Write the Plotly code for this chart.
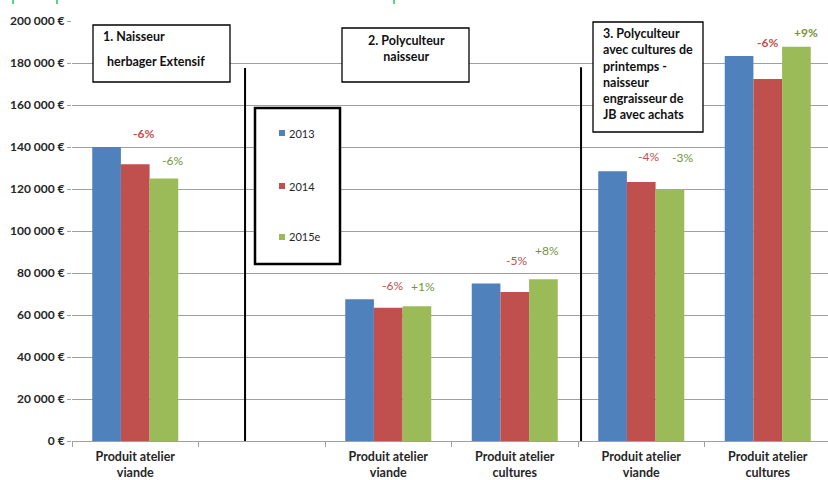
import plotly.graph_objects as go

# ---- data -------------------------------------------------------------
categories = [
    "Produit atelier viande",
    "",
    "Produit atelier viande",
    "Produit atelier cultures",
    "Produit atelier viande",
    "Produit atelier cultures",
]
years = ["2013", "2014", "2015e"]
values_2013 = [140000, None, 67500, 75000, 128500, 183300]
values_2014 = [131800, None, 63500, 71000, 123300, 172400]
values_2015e = [125000, None, 64200, 77000, 120000, 187700]
change_2014 = ["-6%", None, "-6%", "-5%", "-4%", "-6%"]
change_2015e = ["-6%", None, "+1%", "+8%", "-3%", "+9%"]
y_ticks = [0, 20000, 40000, 60000, 80000, 100000, 120000, 140000, 160000, 180000, 200000]

# ---- styling ----------------------------------------------------------
W, H = 828, 480
ML, MR, MT, MB = 72, 0, 21, 39
PW, PH = W - ML - MR, H - MT - MB
COLORS = ["#4f81bd", "#c0504d", "#9bbb59"]
LABEL_RED = "#c0504d"
LABEL_GREEN = "#76933c"
GRID = "#a0a0a0"
FONT = "Lato"


def px(x):
    """pixel column -> paper x"""
    return (x - ML) / PW


def py(y):
    """pixel row -> paper y"""
    return (H - MB - y) / PH


x_idx = list(range(len(categories)))
series = [values_2013, values_2014, values_2015e]

fig = go.Figure()
for name, vals, col in zip(years, series, COLORS):
    fig.add_trace(go.Bar(
        x=x_idx, y=vals, name=name,
        marker=dict(color=col, line=dict(width=0)),
        showlegend=False,
    ))

tick_text = [c.replace("atelier ", "atelier<br>") for c in categories]
y_tick_text = [f"{v:,}".replace(",", "\u00a0") + "\u00a0€" for v in y_ticks]

fig.update_layout(
    width=W, height=H, autosize=False,
    margin=dict(l=ML, r=MR, t=MT, b=MB, pad=0, autoexpand=False),
    paper_bgcolor="white", plot_bgcolor="white",
    barmode="group", bargap=0.32, bargroupgap=0,
    showlegend=False,
    font=dict(family=FONT, color="#262626"),
)

fig.update_xaxes(
    range=[-0.5, -0.5 + PW / 126.5],
    automargin=False,
    tickmode="array", tickvals=x_idx, ticktext=tick_text,
    ticks="", showgrid=False, zeroline=False,
    showline=True, linecolor=GRID, linewidth=1,
    tickfont=dict(family=FONT, size=12.5, color="#262626", weight="bold"),
    ticklabelstandoff=4,
    minor=dict(tickvals=[i - 0.5 for i in x_idx], ticks="outside",
               ticklen=5, tickcolor=GRID, tickwidth=1, showgrid=False),
)
fig.update_yaxes(
    range=[0, 200000],
    automargin=False,
    tickmode="array", tickvals=y_ticks, ticktext=y_tick_text,
    showgrid=True, gridcolor=GRID, gridwidth=1,
    zeroline=False, showline=False,
    ticks="outside", ticklen=4, tickcolor=GRID,
    tickfont=dict(family=FONT, size=12, color="#262626", weight="bold"),
)

# ---- change labels above the 2014 / 2015e bars --------------------------
bar_w = (1 - 0.32) / 3
label_offsets_2014 = [(8, 31), None, (4, 22), (2, 31), (7, 26), (0, 36)]
label_offsets_2015 = [(9, 18), None, (6, 20), (4, 29), (13, 32), (10, 14)]
bold_2014 = [True, False, False, False, False, True]
bold_2015 = [False, False, False, False, False, True]

for i in x_idx:
    if change_2014[i] is not None:
        dx, dy = label_offsets_2014[i]
        fig.add_annotation(
            x=i, y=values_2014[i], xref="x", yref="y",
            text=change_2014[i], showarrow=False,
            xanchor="center", yanchor="middle", xshift=dx, yshift=dy,
            font=dict(family=FONT, size=12, color=LABEL_RED,
                      weight="bold" if bold_2014[i] else "normal"),
        )
    if change_2015e[i] is not None:
        dx, dy = label_offsets_2015[i]
        fig.add_annotation(
            x=i + bar_w, y=values_2015e[i], xref="x", yref="y",
            text=change_2015e[i], showarrow=False,
            xanchor="center", yanchor="middle", xshift=dx, yshift=dy,
            font=dict(family=FONT, size=12, color=LABEL_GREEN,
                      weight="bold" if bold_2015[i] else "normal"),
        )

# ---- vertical separators between farm types ----------------------------
for xs, ytop in [(0.868, 177600), (3.524, 178000)]:
    fig.add_shape(type="line", xref="x", yref="y", x0=xs, x1=xs,
                  y0=-1000, y1=ytop, line=dict(color="black", width=2))

# ---- farm type title boxes ---------------------------------------------
boxes = [(93, 25, 230, 82), (342, 28, 469, 82), (593, 22, 703, 132)]
for x0, y0, x1, y1 in boxes:
    fig.add_shape(type="rect", xref="paper", yref="paper",
                  x0=px(x0), x1=px(x1), y0=py(y1), y1=py(y0),
                  line=dict(color="black", width=1.3), fillcolor="white",
                  layer="above")

title_font = dict(family=FONT, size=12.5, color="#111111", weight="bold")
fig.add_annotation(x=px(101), y=py(37), xref="paper", yref="paper",
                   text="1. Naisseur", showarrow=False,
                   xanchor="left", yanchor="middle", font=title_font)
fig.add_annotation(x=px(105), y=py(61), xref="paper", yref="paper",
                   text="herbager Extensif", showarrow=False,
                   xanchor="left", yanchor="middle", font=title_font)
fig.add_annotation(x=px(406), y=py(48), xref="paper", yref="paper",
                   text="2. Polyculteur<br>naisseur", showarrow=False,
                   xanchor="center", yanchor="middle", align="center",
                   font=title_font)
fig.add_annotation(x=px(601), y=py(74), xref="paper", yref="paper",
                   text="3. Polyculteur<br>avec cultures de<br>printemps -<br>"
                        "naisseur<br>engraisseur de<br>JB avec achats",
                   showarrow=False, xanchor="left", yanchor="middle",
                   align="left", font=title_font)

# ---- legend box ----------------------------------------------------------
fig.add_shape(type="rect", xref="paper", yref="paper",
              x0=px(255), x1=px(340), y0=py(264), y1=py(108),
              line=dict(color="black", width=2.5), fillcolor="white",
              layer="above")
for name, col, yc in zip(years, COLORS, [133, 186, 237]):
    fig.add_shape(type="rect", xref="paper", yref="paper",
                  x0=px(279), x1=px(285), y0=py(yc + 3), y1=py(yc - 3),
                  line=dict(width=0), fillcolor=col, layer="above")
    fig.add_annotation(x=px(287), y=py(yc), xref="paper", yref="paper",
                       text=name, showarrow=False,
                       xanchor="left", yanchor="middle",
                       font=dict(family=FONT, size=11, color="#262626"))

# ---- small green strokes along the top edge ----------------------------
for xg in [13, 57, 394]:
    fig.add_shape(type="line", xref="paper", yref="paper",
                  x0=px(xg), x1=px(xg), y0=py(4), y1=py(0),
                  line=dict(color="#22c55e", width=1.5))

fig.write_html("out.html")
